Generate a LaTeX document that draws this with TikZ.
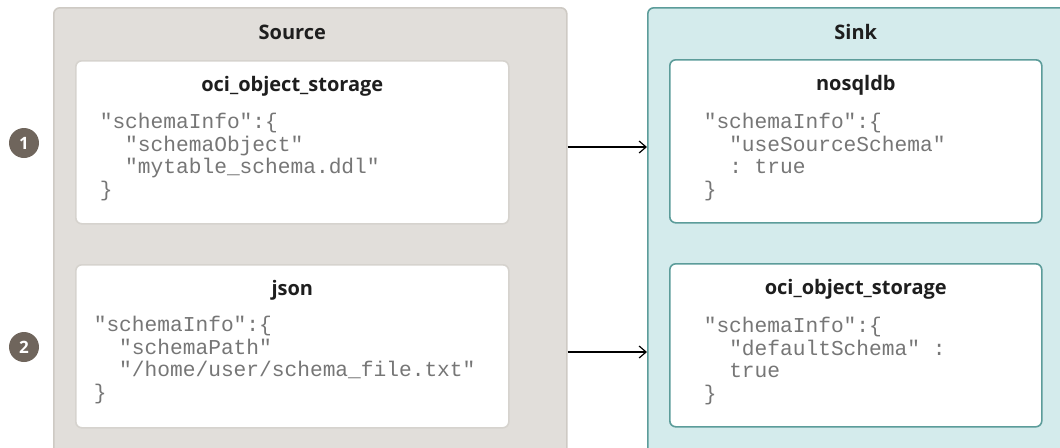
\documentclass[tikz,border=0pt]{standalone}
\usepackage{fontspec}
\setsansfont{Open Sans}
\setmonofont{Liberation Mono}
\usetikzlibrary{arrows.meta, positioning}
\definecolor{sourcefill}{RGB}{225,222,218}
\definecolor{sourceborder}{RGB}{206,202,196}
\definecolor{sourcecard}{RGB}{214,211,206}
\definecolor{sinkfill}{RGB}{212,235,236}
\definecolor{sinkborder}{RGB}{92,156,154}
\definecolor{markerbrown}{RGB}{111,101,92}
\definecolor{codegray}{RGB}{118,118,118}
\definecolor{titleblack}{RGB}{30,30,30}
\newcommand{\ind}{\hphantom{00}}
\tikzset{
    panel/.style={rectangle, rounded corners=3pt, line width=0.8pt, anchor=north west, minimum height=240pt},
    card/.style={rectangle, rounded corners=3pt, fill=white, line width=0.8pt, anchor=north west, minimum height=81.5pt},
    paneltitle/.style={font=\sffamily\bfseries\fontsize{10}{12}\selectfont, text=titleblack, inner sep=0pt},
    cardtitle/.style={font=\sffamily\bfseries\fontsize{10}{12}\selectfont, text=titleblack, inner sep=0pt},
    code/.style={font=\ttfamily\fontsize{10.6}{11.3}\selectfont, text=codegray, align=left, inner sep=0pt, anchor=north west},
    marker/.style={circle, fill=markerbrown, minimum size=15pt, inner sep=0pt, text=white, font=\sffamily\bfseries\fontsize{8.5}{10}\selectfont},
    arrow/.style={-{Straight Barb[length=3.5pt, width=6pt]}, line width=0.6pt, black}
}

\begin{document}
\begin{tikzpicture}[x=1pt, y=1pt]
\useasboundingbox (0,0) rectangle (530,-223.5);
\clip (0,0) rectangle (530,-223.5);

% Panels
\node[panel, fill=sourcefill, draw=sourceborder, minimum width=256.5pt] (source) at (26.5,-3.5) {};
\node[panel, fill=sinkfill, draw=sinkborder, minimum width=215pt] (sink) at (323.5,-3.5) {};

% Source cards
\node[card, draw=sourcecard, minimum width=216.5pt] (src-a) at (37.5,-30) {};
\node[card, draw=sourcecard, minimum width=216.5pt] (src-b) at (37.5,-132) {};
\node[cardtitle, anchor=base] (src-a-title) at ([yshift=-15.5pt]src-a.north) {oci\_object\_storage};
\node[cardtitle, anchor=base] (src-b-title) at ([yshift=-15.5pt]src-b.north) {json};
\node[code] (src-a-code) at ([xshift=12.2pt, yshift=-26.5pt]src-a.north west) {"schemaInfo":\{\\ \ind"schemaObject"\\ \ind"mytable\_schema.ddl"\\ \}};
\node[code] (src-b-code) at ([xshift=9.2pt, yshift=-26pt]src-b.north west) {"schemaInfo":\{\\ \ind"schemaPath"\\ \ind"/home/user/schema\_file.txt"\\ \}};

% Sink cards
\node[card, draw=sinkborder, minimum width=186pt] (snk-a) at (334.5,-29.5) {};
\node[card, draw=sinkborder, minimum width=186pt] (snk-b) at (334.5,-131.5) {};
\node[cardtitle, anchor=base] (snk-a-title) at ([yshift=-15.5pt]snk-a.north) {nosqldb};
\node[cardtitle, anchor=base] (snk-b-title) at ([yshift=-15.5pt]snk-b.north) {oci\_object\_storage};
\node[code] (snk-a-code) at ([xshift=17.2pt, yshift=-27pt]snk-a.north west) {"schemaInfo":\{\\ \ind"useSourceSchema"\\ \ind: true\\ \}};
\node[code] (snk-b-code) at ([xshift=17.2pt, yshift=-27pt]snk-b.north west) {"schemaInfo":\{\\ \ind"defaultSchema" :\\ \ind true\\ \}};

% Panel titles
\node[paneltitle, anchor=base] (source-title) at ([yshift=-16.2pt]source.north -| src-a.north) {Source};
\node[paneltitle, anchor=base] (sink-title) at ([yshift=-16.2pt]sink.north -| snk-a.north) {Sink};

% Markers
\node[marker] (step1) at (12,-71.5) {1};
\node[marker] (step2) at (12,-173.5) {2};

% Arrows
\coordinate (row1) at (0,-73.5);
\coordinate (row2) at (0,-176);
\draw[arrow] (source.east |- row1) -- (sink.west |- row1);
\draw[arrow] (source.east |- row2) -- (sink.west |- row2);

\end{tikzpicture}
\end{document}
